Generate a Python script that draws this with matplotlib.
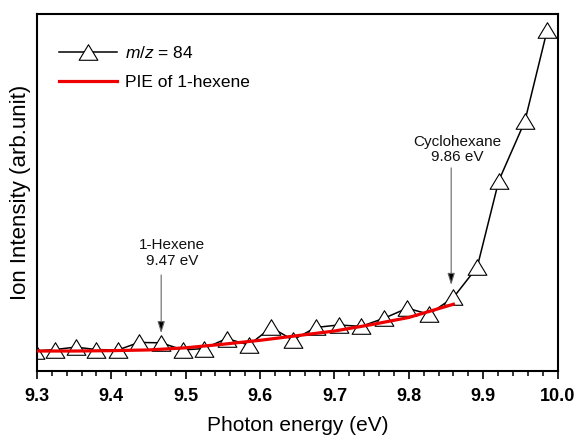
import matplotlib
matplotlib.use("Agg")
import matplotlib.pyplot as plt
from matplotlib.path import Path

plt.rcParams['font.family'] = ['Liberation Sans', 'DejaVu Sans']
plt.rcParams['mathtext.fontset'] = 'custom'
plt.rcParams['mathtext.it'] = 'Liberation Sans:italic'
plt.rcParams['mathtext.rm'] = 'Liberation Sans'

# m/z = 84 measured signal
energy = [9.297, 9.324, 9.352, 9.380, 9.409, 9.437, 9.467, 9.496, 9.525, 9.555,
          9.585, 9.615, 9.644, 9.675, 9.706, 9.736, 9.767, 9.798, 9.827, 9.860,
          9.892, 9.921, 9.956, 9.986]
intensity = [5.6, 6.0, 6.7, 6.0, 5.9, 8.0, 7.9, 5.9, 6.3, 9.1,
             7.3, 12.2, 8.7, 12.2, 12.9, 12.5, 14.8, 17.6, 15.9, 20.6,
             29.1, 53.3, 69.9, 95.4]

# PIE curve of 1-hexene
pie_energy = [9.30, 9.35, 9.40, 9.45, 9.50, 9.55, 9.60, 9.65, 9.70, 9.75, 9.80, 9.86]
pie_intensity = [5.6, 5.6, 5.7, 5.9, 6.5, 7.5, 8.6, 9.9, 11.2, 13.0, 15.0, 18.7]

# annotations
ann_labels = ["1-Hexene\n9.47 eV", "Cyclohexane\n9.86 eV"]
ann_x = [9.467, 9.857]
ann_text_x = [9.482, 9.865]
ann_text_y = [33.0, 62.0]
ann_arrow_start = [26.9, 56.9]
ann_arrow_tip = [10.6, 24.1]

xticks = [9.3, 9.4, 9.5, 9.6, 9.7, 9.8, 9.9, 10.0]
xticklabels = ["9.3", "9.4", "9.5", "9.6", "9.7", "9.8", "9.9", "10.0"]

tri = Path([(-1, -0.83), (1, -0.83), (0, 0.83), (-1, -0.83)],
           [Path.MOVETO, Path.LINETO, Path.LINETO, Path.CLOSEPOLY])

fig = plt.figure(figsize=(5.79, 4.37), dpi=100)
ax = fig.add_axes([0.0639, 0.151, 0.899, 0.817])

ax.plot(energy, intensity, color='black', lw=1.1, marker=tri, ms=13.5,
        mfc='white', mec='black', mew=0.8, zorder=2, label=r'$m/z$ = 84')
ax.plot(pie_energy, pie_intensity, color='#ee0000', lw=2.3, zorder=3,
        label='PIE of 1-hexene')

for lab, x, tx, ty, ys, yt in zip(ann_labels, ann_x, ann_text_x, ann_text_y,
                                   ann_arrow_start, ann_arrow_tip):
    ax.text(tx, ty, lab, ha='center', va='center', fontsize=11,
            linespacing=1.15, color='#111111')
    ax.annotate('', xy=(x, yt), xytext=(x, ys),
                arrowprops=dict(arrowstyle='-|>,head_length=0.7,head_width=0.22',
                                lw=0.8, ec='#666666', fc='black',
                                shrinkA=0, shrinkB=0),
                zorder=4)

ax.set_xlim(9.3, 10.0)
ax.set_ylim(0, 100)
ax.set_xticks(xticks)
ax.set_xticklabels(xticklabels, fontsize=13, fontweight='bold')
ax.set_xticks([9.3 + 0.02 * i for i in range(36)], minor=True)
ax.tick_params(axis='x', which='major', direction='out', length=6, width=1.2, pad=6.5)
ax.tick_params(axis='x', which='minor', direction='out', length=3.5, width=1.1)
ax.set_yticks([])
for s in ax.spines.values():
    s.set_linewidth(1.5)

ax.set_xlabel('Photon energy (eV)', fontsize=15, labelpad=8)
ax.set_ylabel('Ion Intensity (arb.unit)', fontsize=16, labelpad=4)

leg = ax.legend(loc='upper left', bbox_to_anchor=(0.043, 0.914), frameon=False,
                fontsize=12.5, handlelength=3.3, handletextpad=0.5,
                labelspacing=0.82, borderaxespad=0, borderpad=0)

fig.savefig('out.png', dpi=100)
